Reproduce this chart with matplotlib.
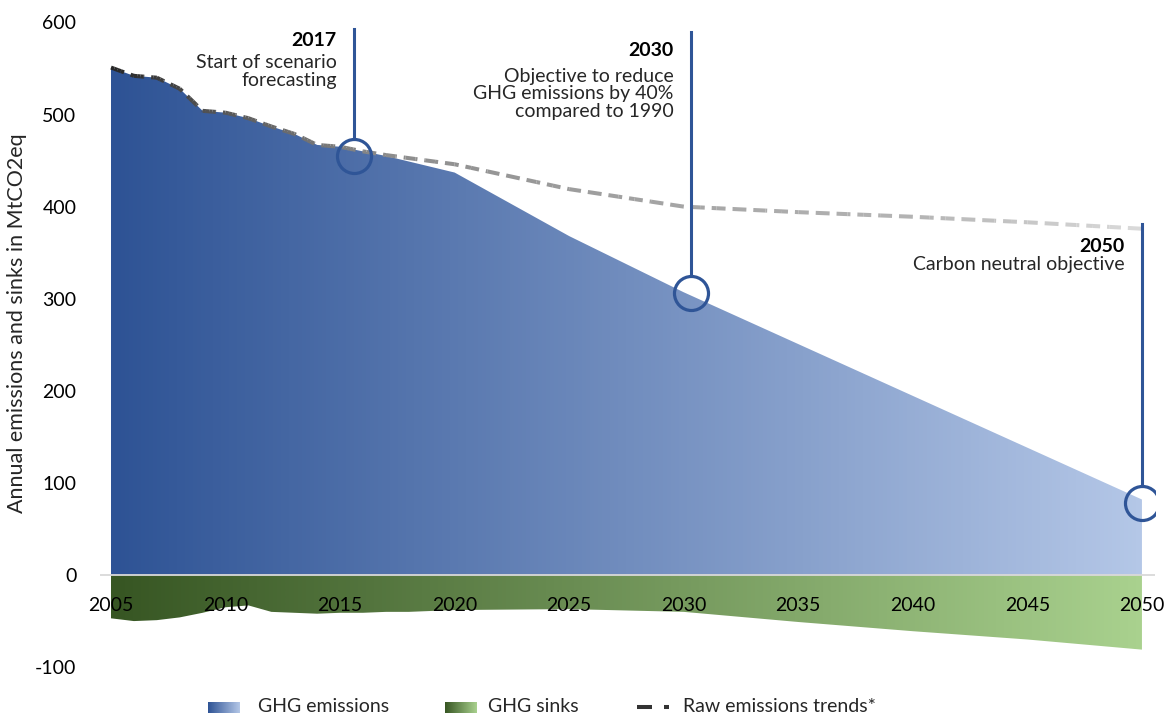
import numpy as np
import matplotlib
matplotlib.use('Agg')
import matplotlib.pyplot as plt
from matplotlib.colors import LinearSegmentedColormap, to_rgb
from matplotlib.patches import PathPatch
from matplotlib.lines import Line2D
import matplotlib.transforms as mtransforms

plt.rcParams['font.family'] = ['Lato', 'DejaVu Sans']
plt.rcParams['axes.unicode_minus'] = False
plt.rcParams['lines.scale_dashes'] = False

# emissions (MtCO2eq), historical + scenario
years = [2005, 2006, 2007, 2008, 2009, 2010, 2011, 2012, 2013, 2014, 2015,
         2016, 2017, 2018, 2019, 2020, 2025, 2030, 2050]
emissions = [551, 542, 540, 528, 504, 502, 496, 487, 479, 467, 465,
             460, 455, 449, 443, 437, 368, 307, 82]

# sinks (negative)
sink_years = [2005, 2006, 2007, 2008, 2009, 2010, 2011, 2012, 2013, 2014, 2015,
              2016, 2017, 2018, 2019, 2020, 2025, 2030, 2035, 2040, 2045, 2050]
sinks = [-47, -50, -49, -46, -41, -35, -33, -40, -41, -42, -41,
         -41, -40, -40, -39, -38, -37, -40, -51, -61, -70, -81]

# raw emissions trend
raw_years = [2005, 2006, 2007, 2008, 2009, 2010, 2011, 2012, 2013, 2014, 2015,
             2016, 2017, 2020, 2025, 2030, 2035, 2040, 2045, 2050]
raw_trend = [551, 542, 540, 528, 504, 502, 496, 487, 479, 467, 465,
             460, 456, 446, 419, 400, 394, 389, 383, 376]

# milestones
ms_x = [2015.6, 2030.3, 2050]
ms_y = [455, 306, 78]
ms_top = [593, 590, 381]
ms_title = ['2017', '2030', '2050']
ms_text = [['Start of scenario', 'forecasting'],
           ['Objective to reduce', 'GHG emissions by 40%', 'compared to 1990'],
           ['Carbon neutral objective']]
ms_title_y = [580, 569, 357]
ms_text_y = [566, 551, 346]

blue = '#2F5597'
emis_cmap = LinearSegmentedColormap.from_list('emis', ['#2E5395', '#B4C7E7'])
sink_cmap = LinearSegmentedColormap.from_list('sink', ['#375623', '#A9D18E'])
grad = np.linspace(0, 1, 256).reshape(1, -1)

fig = plt.figure(figsize=(11.66, 7.16), dpi=100)
ax = fig.add_axes([100/1166, 0.0554, 1055/1166, 0.939])
ax.set_xlim(2004.52, 2050.57)
ax.set_ylim(-110, 620)


def gradient_area(x, y, cmap):
    poly = ax.fill_between(x, 0, y, facecolor='none', lw=0)
    clip = PathPatch(poly.get_paths()[0], transform=ax.transData,
                     facecolor='none', edgecolor='none')
    lo, hi = min(0, min(y)), max(0, max(y))
    im = ax.imshow(grad, cmap=cmap, aspect='auto', zorder=1,
                   extent=[x[0], x[-1], lo, hi], interpolation='bilinear')
    im.set_clip_path(clip)


gradient_area(years, emissions, emis_cmap)
gradient_area(sink_years, sinks, sink_cmap)
ax.set_xlim(2004.52, 2050.57)
ax.set_ylim(-110, 620)

ax.axhline(0, color='#D9D9D9', lw=1.3, zorder=2)

# dashed raw trend with a dark-to-light fade
fade_x = [2005, 2009, 2013, 2017, 2030, 2040, 2050]
fade_c = ['#262626', '#505050', '#6e6e6e', '#8c8c8c', '#a6a6a6', '#b4b4b4', '#dadada']
fade_rgb = np.array([to_rgb(c) for c in fade_c])
on, off = 10, 5
dist = 0.0
for i in range(len(raw_years) - 1):
    xs = np.linspace(raw_years[i], raw_years[i + 1], 8)
    ys = np.linspace(raw_trend[i], raw_trend[i + 1], 8)
    pts = ax.transData.transform(np.column_stack([xs, ys]))
    for j in range(len(xs) - 1):
        xm = (xs[j] + xs[j + 1]) / 2
        col = [np.interp(xm, fade_x, fade_rgb[:, k]) for k in range(3)]
        ax.plot(xs[j:j + 2], ys[j:j + 2], color=col, lw=2.9,
                linestyle=(dist % (on + off), (on, off)), zorder=3,
                solid_capstyle='butt', dash_capstyle='butt')
        dist += np.hypot(*(pts[j + 1] - pts[j])) * 72 / fig.dpi

# milestone markers
for i in range(len(ms_x)):
    ax.plot([ms_x[i], ms_x[i]], [ms_y[i] + 18.5, ms_top[i]], color=blue, lw=2.2, zorder=4)
    ax.plot(ms_x[i], ms_y[i], 'o', ms=24.5, mfc='none', mec=blue, mew=2.3, zorder=4)
    tr = mtransforms.offset_copy(ax.transData, fig, x=-17, y=0, units='dots')
    ax.text(ms_x[i], ms_title_y[i], ms_title[i], transform=tr, ha='right', va='center',
            fontsize=14, fontweight='bold', color='black')
    ax.text(ms_x[i], ms_text_y[i], '\n'.join(ms_text[i]), transform=tr, ha='right', va='top',
            fontsize=14, color='#262626', linespacing=1.06)

# axes styling
for s in ['top', 'right', 'left']:
    ax.spines[s].set_visible(False)
ax.spines['bottom'].set_position(('data', 0))
ax.spines['bottom'].set_visible(False)
ax.set_xticks(range(2005, 2051, 5))
ax.set_yticks(range(-100, 601, 100))
ax.tick_params(axis='x', length=0, pad=16, labelsize=14)
ax.tick_params(axis='y', length=0, pad=17, labelsize=14)
ax.set_ylabel('Annual emissions and sinks in MtCO2eq', fontsize=15.5, color='#262626')
ax.yaxis.set_label_coords(-0.069, 0.525)

# legend
def swatch(x0, cmap):
    sax = fig.add_axes([x0/1166, 3/716, 32/1166, 11/716])
    sax.imshow(grad, cmap=cmap, aspect='auto')
    sax.axis('off')

swatch(208, emis_cmap)
fig.text(258/1166, 9/716, 'GHG emissions', fontsize=14, color='#262626', va='center')
swatch(445, sink_cmap)
fig.text(488/1166, 9/716, 'GHG sinks', fontsize=14, color='#262626', va='center')
fig.add_artist(Line2D([637/1166, 652/1166], [9/716, 9/716], transform=fig.transFigure,
                      color='#333333', lw=2.9, solid_capstyle='butt'))
fig.add_artist(Line2D([664/1166, 669/1166], [9/716, 9/716], transform=fig.transFigure,
                      color='#333333', lw=2.9, solid_capstyle='butt'))
fig.text(683/1166, 9/716, 'Raw emissions trends*', fontsize=14, color='#262626', va='center')

fig.savefig('out.png', dpi=100)
